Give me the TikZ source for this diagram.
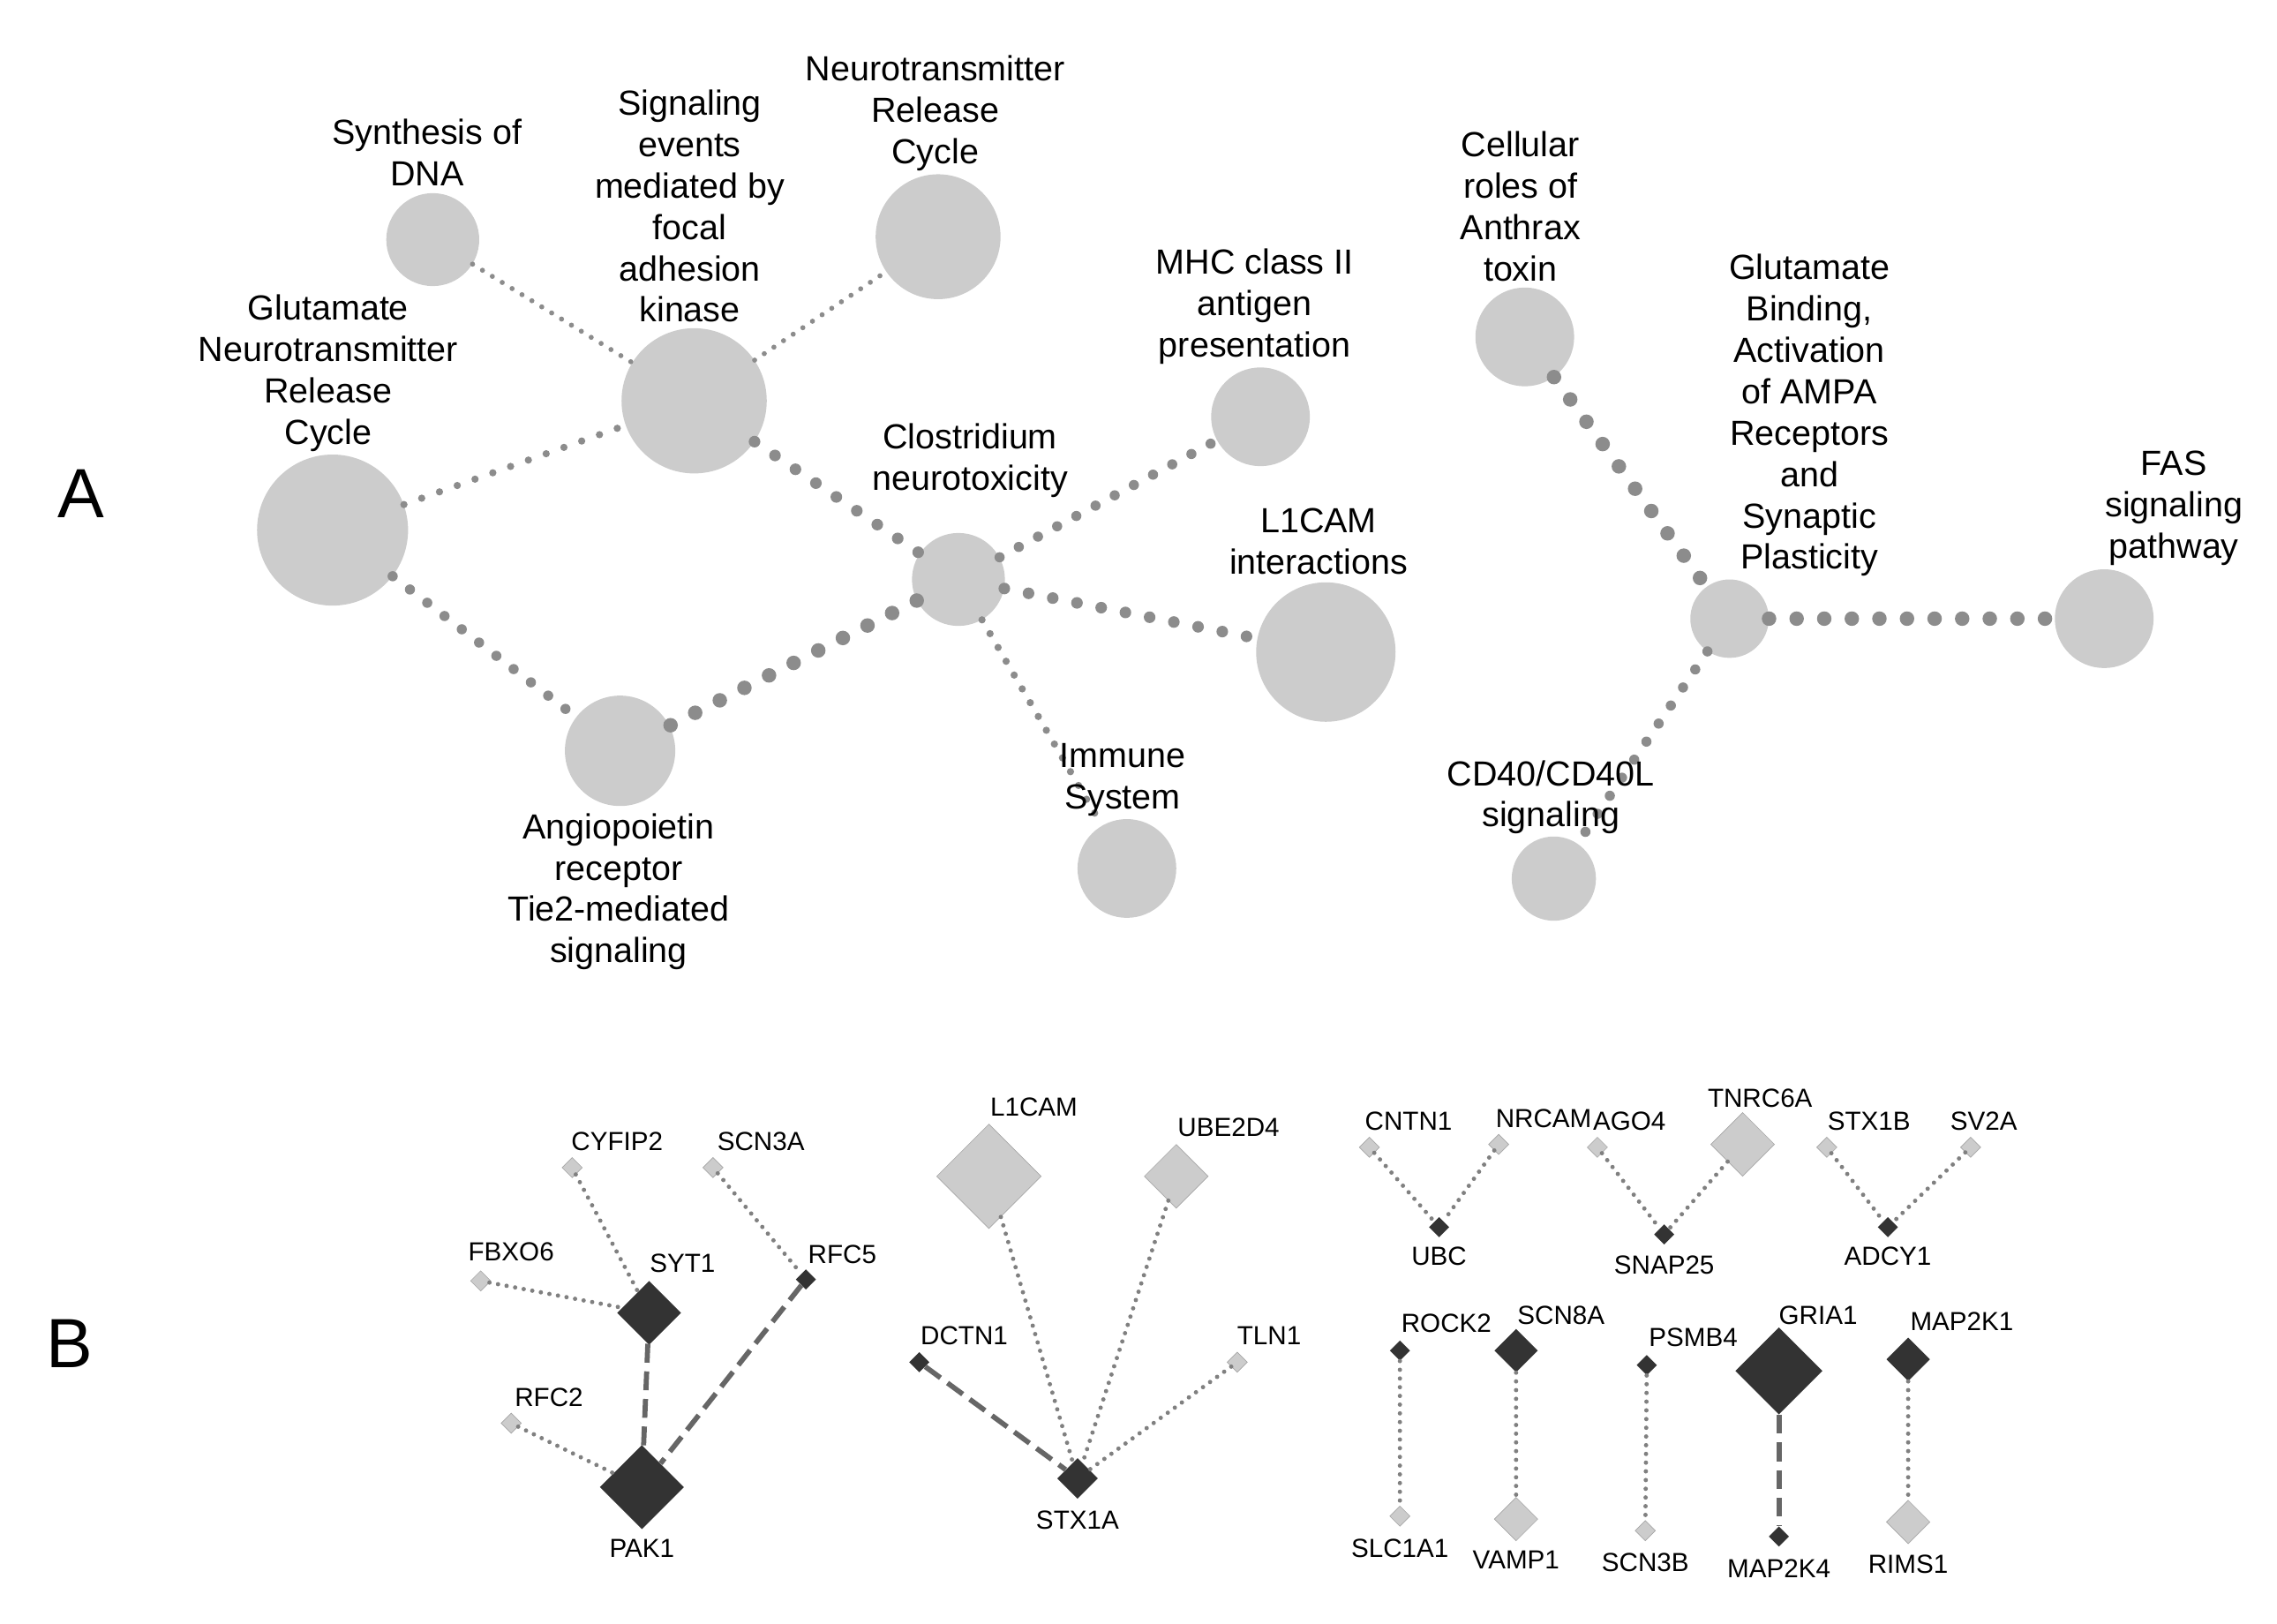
\documentclass[tikz,border=0pt]{standalone}
\usepackage{fontspec}
\setmainfont{Liberation Sans}
\usetikzlibrary{shapes.geometric}
\begin{document}
\begin{tikzpicture}[x=1pt,y=-1pt,
 c/.style={circle,fill=black!20,minimum size=#1*2pt,inner sep=0},
 la/.style={align=center,font=\fontsize{24}{28.5}\selectfont},
 lb/.style={font=\fontsize{18}{20}\selectfont},
 d1/.style={draw=black!45,line cap=round,line width=3.5pt,dash pattern=on 0pt off 8pt},
 d2/.style={draw=black!45,line cap=round,line width=7pt,dash pattern=on 0pt off 15pt},
 d3/.style={draw=black!45,line cap=round,line width=10pt,dash pattern=on 0pt off 19pt},
 bd/.style={draw=black!50,line cap=round,line width=3pt,dash pattern=on 0pt off 6pt},
 bs/.style={draw=black!60,line width=3.5pt,dash pattern=on 13pt off 6pt},
 dk/.style={diamond,fill=black!80,minimum size=#1*2pt,inner sep=0},
 lt/.style={diamond,fill=black!20,draw=black!35,minimum size=#1*2pt,inner sep=0}]
\useasboundingbox (0,0) rectangle (1568,1118);
\node[font=\fontsize{48}{48}\selectfont] (A) at (56,340) {A};
\node[font=\fontsize{48}{48}\selectfont] (B) at (48,925) {B};
% A nodes
\node[c=32] (syn) at (298,165) {};
\node[c=50] (fak) at (478,276) {};
\node[c=43] (nrc) at (646,163) {};
\node[c=52] (glu) at (229,365) {};
\node[c=32] (clo) at (660,399) {};
\node[c=34] (mhc) at (868,287) {};
\node[c=48] (l1) at (913,449) {};
\node[c=34] (imm) at (776,598) {};
\node[c=38] (ang) at (427,517) {};
\node[c=34] (ant) at (1050,232) {};
\node[c=27] (gb) at (1191,426) {};
\node[c=34] (fas) at (1449,426) {};
\node[c=29] (cd) at (1070,605) {};
\draw[d1] (syn)--(fak); \draw[d1] (fak)--(nrc);
\draw[d1,line width=5pt,dash pattern=on 0pt off 13pt] (glu)--(fak);
\draw[d2] (glu)--(ang);
\draw[d2,line width=8pt,dash pattern=on 0pt off 17pt] (fak)--(clo);
\draw[d2] (clo)--(mhc);
\draw[d2,line width=8pt,dash pattern=on 0pt off 17pt] (clo)--(l1);
\draw[d1,line width=5pt,dash pattern=on 0pt off 11pt] (clo)--(imm);
\draw[d3] (clo)--(ang);
\draw[d3] (ant)--(gb);
\draw[d3] (gb)--(fas);
\draw[d2] (gb)--(cd);
\node[la] (tsyn) at (294,105) {Synthesis of\\DNA};
\node[la] (tfak) at (475,142) {Signaling\\events\\mediated by\\focal\\adhesion\\kinase};
\node[la] (tnrc) at (644,78) {Neurotransmitter\\Release\\Cycle};
\node[la] (tglu) at (226,257) {Glutamate\\Neurotransmitter\\Release\\Cycle};
\node[la] (tclo) at (668,317) {Clostridium\\neurotoxicity};
\node[la] (tmhc) at (864,211) {MHC class II\\antigen\\presentation};
\node[la] (tl1) at (908,373) {L1CAM\\interactions};
\node[la] (timm) at (773,537) {Immune\\System};
\node[la] (tang) at (426,614) {Angiopoietin\\receptor\\Tie2-mediated\\signaling};
\node[la] (tant) at (1047,142) {Cellular\\roles of\\Anthrax\\toxin};
\node[la] (tgb) at (1246,286) {Glutamate\\Binding,\\Activation\\of AMPA\\Receptors\\and\\Synaptic\\Plasticity};
\node[la] (tfas) at (1497,350) {FAS\\signaling\\pathway};
\node[la] (tcd) at (1068,549) {CD40/CD40L\\signaling};
% B cluster 1
\node[lt=7] (cyf) at (394,804) {};
\node[lt=7] (scn3a) at (491,804) {};
\node[lt=7] (fbx) at (331,882) {};
\node[dk=22] (syt) at (447,904) {};
\node[dk=7] (rfc5) at (555,881) {};
\node[lt=7] (rfc2) at (352,980) {};
\node[dk=29] (pak) at (442,1024) {};
\draw[bd] (cyf)--(syt); \draw[bd] (fbx)--(syt); \draw[bs] (syt)--(pak);
\draw[bs] (rfc5)--(pak); \draw[bd] (rfc2)--(pak); \draw[bd] (scn3a)--(rfc5);
\node[lb] at (425,786) {CYFIP2}; \node[lb] at (524,786) {SCN3A};
\node[lb] at (352,862) {FBXO6}; \node[lb] at (470,870) {SYT1};
\node[lb] at (580,864) {RFC5}; \node[lb] at (378,962) {RFC2};
\node[lb] at (442,1066) {PAK1};
% cluster 2
\node[lt=36] (l1b) at (681,810) {};
\node[lt=22] (ube) at (810,810) {};
\node[dk=7] (dct) at (633,938) {};
\node[lt=7] (tln) at (852,938) {};
\node[dk=14] (stx) at (742,1018) {};
\draw[bd] (l1b)--(stx); \draw[bd] (ube)--(stx); \draw[bs] (dct)--(stx); \draw[bd] (tln)--(stx);
\node[lb] at (712,762) {L1CAM}; \node[lb] at (846,776) {UBE2D4};
\node[lb] at (664,920) {DCTN1}; \node[lb] at (874,920) {TLN1};
\node[lb] at (742,1047) {STX1A};
% cluster 3
\node[lt=7] (cnt) at (943,790) {}; \node[lt=7] (nrca) at (1032,788) {}; \node[dk=7] (ubc) at (991,845) {};
\draw[bd] (cnt)--(ubc); \draw[bd] (nrca)--(ubc);
\node[lb] at (970,772) {CNTN1}; \node[lb] at (1063,770) {NRCAM}; \node[lb] at (991,865) {UBC};
\node[lt=7] (ago) at (1100,790) {}; \node[lt=22] (tnr) at (1200,788) {}; \node[dk=7] (snap) at (1146,850) {};
\draw[bd] (ago)--(snap); \draw[bd] (tnr)--(snap);
\node[lb] at (1122,772) {AGO4}; \node[lb] at (1212,756) {TNRC6A}; \node[lb] at (1146,871) {SNAP25};
\node[lt=7] (stb) at (1258,790) {}; \node[lt=7] (sv2) at (1357,790) {}; \node[dk=7] (ady) at (1300,845) {};
\draw[bd] (stb)--(ady); \draw[bd] (sv2)--(ady);
\node[lb] at (1287,772) {STX1B}; \node[lb] at (1366,772) {SV2A}; \node[lb] at (1300,865) {ADCY1};
% cluster 4
\node[dk=7] (rock) at (964,930) {}; \node[lt=7] (slc) at (964,1044) {}; \draw[bd] (rock)--(slc);
\node[dk=15] (scn8) at (1044,930) {}; \node[lt=15] (vamp) at (1044,1046) {}; \draw[bd] (scn8)--(vamp);
\node[dk=7] (psmb) at (1134,940) {}; \node[lt=7] (scn3b) at (1133,1054) {}; \draw[bd] (psmb)--(scn3b);
\node[dk=30] (gria) at (1225,944) {}; \node[dk=7] (m2k4) at (1225,1058) {}; \draw[bs] (gria)--(m2k4);
\node[dk=15] (m2k1) at (1314,936) {}; \node[lt=15] (rims) at (1314,1048) {}; \draw[bd] (m2k1)--(rims);
\node[lb] at (996,911) {ROCK2}; \node[lb] at (1075,906) {SCN8A}; \node[lb] at (1166,921) {PSMB4};
\node[lb] at (1252,906) {GRIA1}; \node[lb] at (1351,910) {MAP2K1};
\node[lb] at (964,1066) {SLC1A1}; \node[lb] at (1044,1074) {VAMP1}; \node[lb] at (1133,1076) {SCN3B};
\node[lb] at (1225,1080) {MAP2K4}; \node[lb] at (1314,1077) {RIMS1};
\end{tikzpicture}
\end{document}
